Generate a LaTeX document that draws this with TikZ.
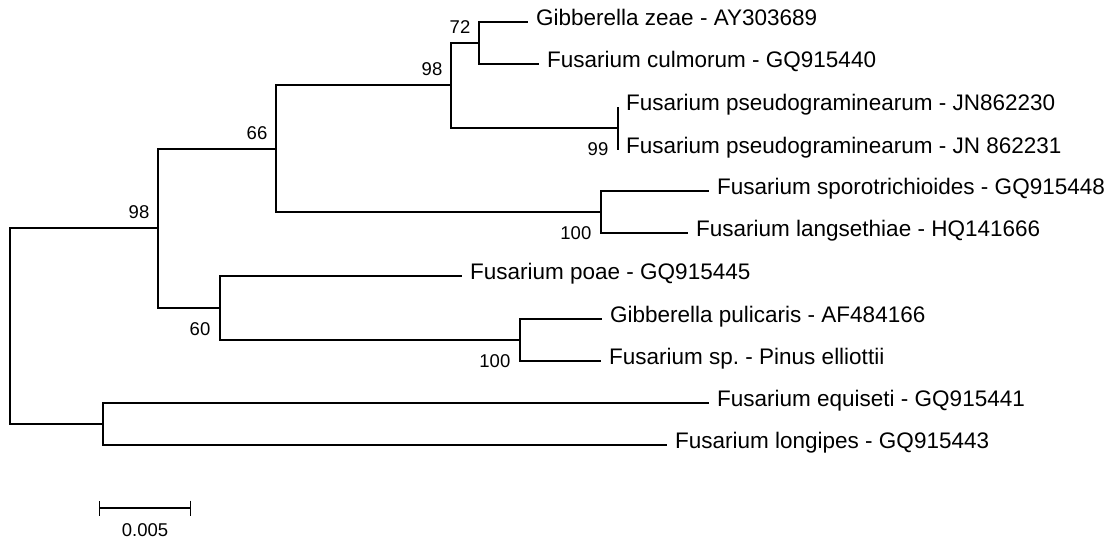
\documentclass[tikz,border=0pt]{standalone}
\usepackage{fontspec}
\setmainfont{Liberation Sans}
\usepackage{tikz}
\usetikzlibrary{arrows.meta}

\begin{document}
\begin{tikzpicture}[
    x=1pt, y=-1pt,
    line width=1.4pt,
    leaf/.style={anchor=west, inner xsep=7.5pt, inner ysep=0pt,
        text height=0.716em, text depth=0pt,
        font=\fontsize{22.5}{27}\selectfont},
    boot/.style={inner sep=0pt, font=\fontsize{18.5}{22}\selectfont},
    boot up/.style={boot, anchor=south east},
    boot down/.style={boot, anchor=north east}
]
    \useasboundingbox (0,0) rectangle (1119,540);

    % Coordinates
    \coordinate (root) at (10, 326);
    \coordinate (ingroup) at (158, 228);
    \coordinate (gram) at (276, 149);
    \coordinate (gram_core) at (451, 85);
    \coordinate (zeae_cul) at (479, 43);
    \coordinate (pseudo) at (618, 128);
    \coordinate (sporo_lang) at (601, 212);
    \coordinate (poae_grp) at (220, 308);
    \coordinate (pul_sp) at (520, 340);
    \coordinate (outgroup) at (103, 424);

    % Taxa
    \node[leaf] (zeae) at (528, 22) {Gibberella zeae - AY303689};
    \node[leaf] (culm) at (539, 64) {Fusarium culmorum - GQ915440};
    \node[leaf] (pseu1) at (618, 107) {Fusarium pseudograminearum - JN862230};
    \node[leaf] (pseu2) at (618, 150) {Fusarium pseudograminearum - JN 862231};
    \node[leaf] (sporo) at (709, 191) {Fusarium sporotrichioides - GQ915448};
    \node[leaf] (lang) at (688, 233) {Fusarium langsethiae - HQ141666};
    \node[leaf] (poae) at (462, 276) {Fusarium poae - GQ915445};
    \node[leaf] (puli) at (602, 319) {Gibberella pulicaris - AF484166};
    \node[leaf] (fsp) at (601, 361) {Fusarium sp.\ - Pinus elliottii};
    \node[leaf] (equi) at (709, 403) {Fusarium equiseti - GQ915441};
    \node[leaf] (longi) at (667, 445) {Fusarium longipes - GQ915443};

    % Branches
    \draw (root) |- (ingroup);
    \draw (root) |- (outgroup);

    \draw (ingroup) |- (gram);
    \draw (ingroup) |- (poae_grp);

    \draw (gram) |- (gram_core);
    \draw (gram) |- (sporo_lang);

    \draw (gram_core) |- (zeae_cul);
    \draw (gram_core) |- (pseudo);
    \draw (zeae_cul) |- (zeae.west);
    \draw (zeae_cul) |- (culm.west);
    \draw (pseudo) |- (pseu1.west);
    \draw (pseudo) |- (pseu2.west);

    \draw (sporo_lang) |- (sporo.west);
    \draw (sporo_lang) |- (lang.west);

    \draw (poae_grp) |- (poae.west);
    \draw (poae_grp) |- (pul_sp);
    \draw (pul_sp) |- (puli.west);
    \draw (pul_sp) |- (fsp.west);

    \draw (outgroup) |- (equi.west);
    \draw (outgroup) |- (longi.west);

    % Bootstrap values
    \node[boot up] (bs_ingroup) at ([shift={(-8,-8.5)}]ingroup) {98};
    \node[boot up] (bs_gram) at ([shift={(-8,-8.5)}]gram) {66};
    \node[boot up] (bs_core) at ([shift={(-8,-8.5)}]gram_core) {98};
    \node[boot up] (bs_zeae) at ([shift={(-8,-8.5)}]zeae_cul) {72};
    \node[boot down] (bs_pseudo) at ([shift={(-9,13.5)}]pseudo) {99};
    \node[boot down] (bs_sporo) at ([shift={(-9,13.5)}]sporo_lang) {100};
    \node[boot down] (bs_poae) at ([shift={(-9,13.5)}]poae_grp) {60};
    \node[boot down] (bs_pul) at ([shift={(-9,13.5)}]pul_sp) {100};

    % Scale bar
    \coordinate (bar_l) at (99, 508);
    \coordinate (bar_r) at (191, 508);
    \coordinate (bar_mid) at (145, 508);
    \draw[{Bar[width=15pt]}-{Bar[width=15pt]}] (bar_l) -- (bar_r);
    \node[boot, anchor=north] (bar_lbl) at ([yshift=-14.5pt]bar_mid) {0.005};

\end{tikzpicture}
\end{document}
